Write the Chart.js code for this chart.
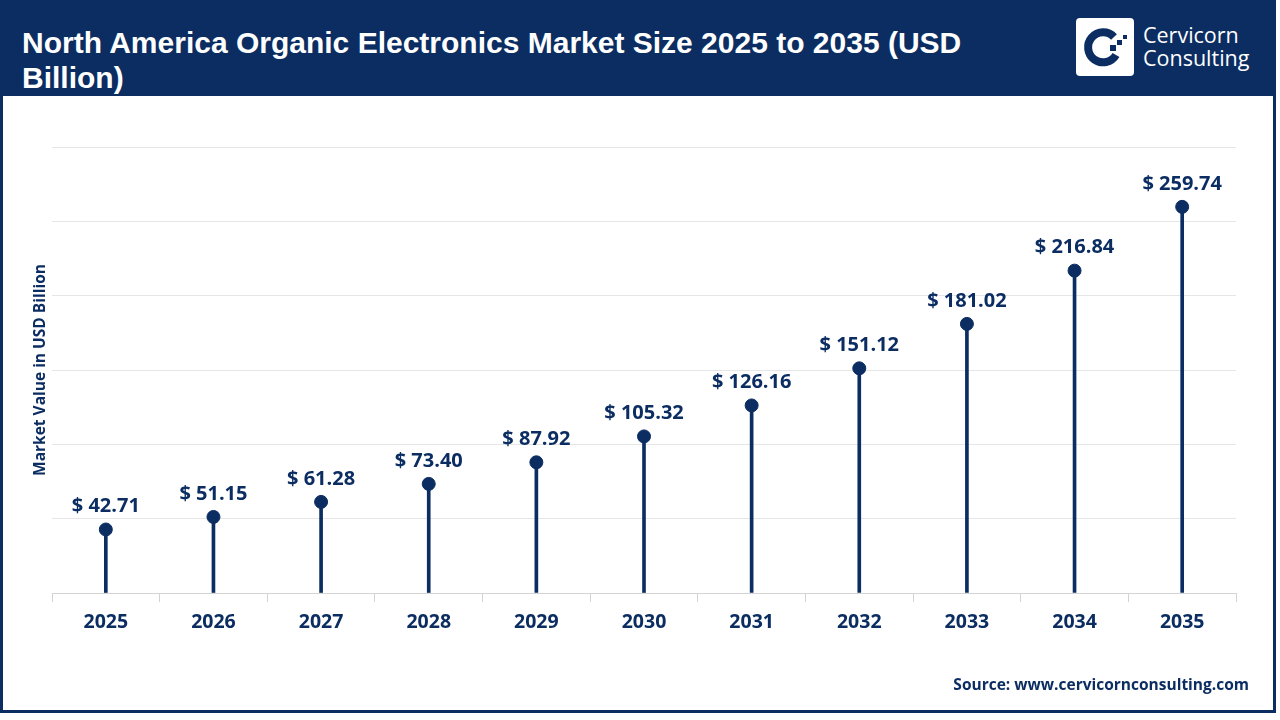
<!DOCTYPE html>
<html>
<head>
<meta charset="utf-8">
<script src="https://cdn.jsdelivr.net/npm/chart.js@4.4.1/dist/chart.umd.min.js"></script>
<style>
  html, body { margin: 0; padding: 0; background: #fff; }
  .frame {
    position: absolute; left: 0; top: 0; width: 1276px; height: 713px;
    box-sizing: border-box; border: 3px solid #0b2d62; background: #fff;
  }
  .header {
    position: absolute; left: 0; top: 0; width: 1276px; height: 96px; background: #0b2d62;
  }
  .title {
    position: absolute; left: 22px; top: 25px; width: 1010px;
    font-family: "Liberation Sans", Arial, sans-serif; font-weight: bold;
    font-size: 30px; line-height: 35px; color: #fff;
  }
  .logo { position: absolute; left: 1076px; top: 18px; }
  .brand {
    position: absolute; left: 1143px; top: 23px; color: #fff;
    font-family: "Open Sans", sans-serif; font-size: 21.5px; line-height: 23px;
  }
  .source {
    position: absolute; right: 31px; top: 673px; color: #0b2d62;
    font-family: "Open Sans", sans-serif; font-weight: bold; font-size: 15.5px;
  }
  #chartWrap { position: absolute; left: 3px; top: 96px; width: 1270px; height: 614px; }
</style>
</head>
<body>
<div class="frame"></div>
<div class="header">
  <div class="title">North America Organic Electronics Market Size 2025 to 2035 (USD Billion)</div>
  <svg class="logo" width="58" height="58" viewBox="0 0 58 58">
    <rect x="0" y="0" width="58" height="58" rx="4" fill="#fff"/>
    <path d="M38 19 A15 15 0 1 0 40 37" fill="none" stroke="#0b2d62" stroke-width="8"/>
    <rect x="34" y="27" width="6" height="6" fill="#0b2d62"/>
    <rect x="41" y="22" width="5" height="5" fill="#0b2d62"/>
    <rect x="47" y="17" width="4" height="4" fill="#0b2d62"/>
  </svg>
  <div class="brand">Cervicorn<br>Consulting</div>
</div>
<div id="chartWrap"><canvas id="grafico"></canvas></div>
<div class="source">Source: www.cervicornconsulting.com</div>

<script>
const anos = ['2025', '2026', '2027', '2028', '2029', '2030', '2031', '2032', '2033', '2034', '2035'];
const valores = [42.71, 51.15, 61.28, 73.40, 87.92, 105.32, 126.16, 151.12, 181.02, 216.84, 259.74];
const eixoY = { min: 0, max: 300, passo: 50 };

const azul = '#0b2d62';

// rótulos "$ xx.xx" acima de cada ponto
const rotulos = {
    id: 'rotulos',
    afterDatasetsDraw(chart) {
        const meta = chart.getDatasetMeta(1);
        const ctx = chart.ctx;
        ctx.save();
        ctx.font = 'bold 20px "Open Sans", sans-serif';
        ctx.fillStyle = azul;
        ctx.textAlign = 'center';
        ctx.textBaseline = 'middle';
        meta.data.forEach((pt, i) => {
            ctx.fillText('$ ' + valores[i].toFixed(2), pt.x, pt.y - 23);
        });
        ctx.restore();
    }
};

const ctx = document.getElementById('grafico').getContext('2d');
new Chart(ctx, {
    type: 'bar',
    data: {
        labels: anos,
        datasets: [
            {
                type: 'bar',
                data: valores,
                backgroundColor: azul,
                barThickness: 3,
                order: 2
            },
            {
                type: 'line',
                data: valores,
                showLine: false,
                pointRadius: 6.5,
                pointHoverRadius: 6.5,
                pointBackgroundColor: azul,
                pointBorderColor: azul,
                order: 1
            }
        ]
    },
    options: {
        responsive: true,
        maintainAspectRatio: false,
        animation: false,
        layout: { padding: { left: 19, right: 37, top: 51, bottom: 60 } },
        plugins: { legend: { display: false }, tooltip: { enabled: false } },
        scales: {
            x: {
                offset: true,
                grid: { display: true, drawOnChartArea: false, tickLength: 9, color: '#d4d4d4', offset: true },
                border: { color: '#d4d4d4', width: 1 },
                ticks: {
                    color: azul, padding: 9,
                    font: { family: '"Open Sans", sans-serif', weight: 'bold', size: 19.5 }
                },
                afterFit(scale) { scale.height = 57; }
            },
            y: {
                min: eixoY.min, max: eixoY.max,
                ticks: { display: false, stepSize: eixoY.passo },
                grid: { color: '#e6e6e6', drawTicks: false },
                border: { display: false },
                title: {
                    display: true, text: 'Market Value in USD Billion', color: azul,
                    padding: { top: 9, bottom: 0 },
                    font: { family: '"Open Sans", sans-serif', weight: 'bold', size: 15.5 }
                },
                afterFit(scale) { scale.width = 30; }
            }
        }
    },
    plugins: [rotulos]
});
</script>
</body>
</html>
